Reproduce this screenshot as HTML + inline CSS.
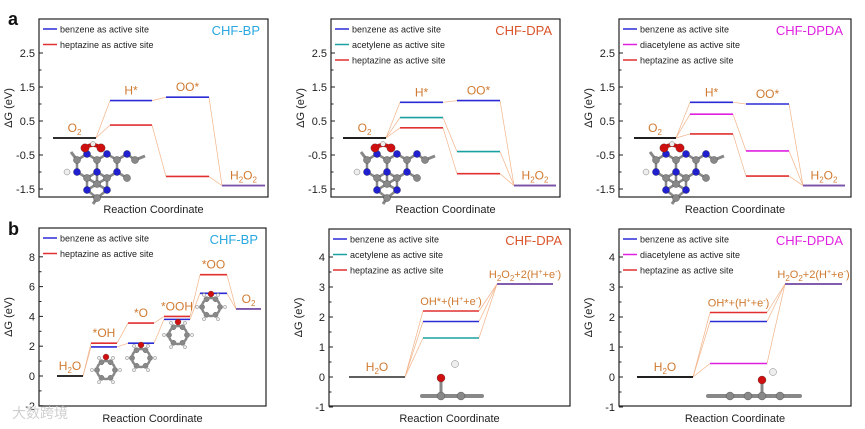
<!DOCTYPE html>
<html><head><meta charset="utf-8">
<style>
html,body{margin:0;padding:0;background:#fff;}
svg{display:block;font-family:"Liberation Sans",Arial,sans-serif;}
</style></head>
<body>
<svg id="fig" width="865" height="429" viewBox="0 0 865 429"></svg>
<script>
// ---- data ----
const topLeftSteps = ["O2","H*","OO*","H2O2"];
const topLeftBenzene = [0, 1.1, 1.2, -1.4];
const topLeftHeptazine = [0, 0.38, -1.13, -1.4];

const topMidSteps = ["O2","H*","OO*","H2O2"];
const topMidBenzene = [0, 1.05, 1.1, -1.4];
const topMidAcetylene = [0, 0.6, -0.4, -1.4];
const topMidHeptazine = [0, 0.3, -1.05, -1.4];

const topRightSteps = ["O2","H*","OO*","H2O2"];
const topRightBenzene = [0, 1.05, 1.0, -1.4];
const topRightDiacetylene = [0, 0.7, -0.38, -1.4];
const topRightHeptazine = [0, 0.12, -1.12, -1.4];

const botLeftSteps = ["H2O","*OH","*O","*OOH","*OO","O2"];
const botLeftBenzene = [0, 1.95, 2.2, 3.8, 5.55, 4.5];
const botLeftHeptazine = [0, 2.2, 3.55, 4.0, 6.8, 4.5];

const botMidSteps = ["H2O","OH*","H2O2"];
const botMidBenzene = [0, 1.85, 3.1];
const botMidAcetylene = [0, 1.3, 3.1];
const botMidHeptazine = [0, 2.2, 3.1];

const botRightSteps = ["H2O","OH*","H2O2"];
const botRightBenzene = [0, 1.85, 3.1];
const botRightDiacetylene = [0, 0.45, 3.1];
const botRightHeptazine = [0, 2.15, 3.1];

const topTicks = [2.5, 1.5, 0.5, -0.5, -1.5];
const botLeftTicks = [8, 6, 4, 2, 0, -2];
const botTicks = [4, 3, 2, 1, 0, -1];

const NS = "http://www.w3.org/2000/svg";
const svg = document.getElementById('fig');
function mk(tag, attrs, parent){
  const e = document.createElementNS(NS, tag);
  for (const k in attrs) e.setAttribute(k, attrs[k]);
  (parent||svg).appendChild(e);
  return e;
}
const OR = "#d07a30", CONN = "#f2b48a";
const BLUE="#2b2bd6", RED="#e03030", TEAL="#1aa0a0", MAG="#e020e0", PURP="#7a52a8";

function panel(opt){
  const g = mk('g', {});
  
  
  const y = v => opt.y0 - (v - opt.v0) * opt.scale;
  const fr = mk('rect', {x:opt.L, y:opt.T, width:opt.R-opt.L, height:opt.B-opt.T, fill:'none', stroke:'#222', 'stroke-width':1.2}, g);
  
  
  opt.ticks.forEach((t,i)=>{
    const ty = y(t);
    mk('line',{x1:opt.L,x2:opt.L+4,y1:ty,y2:ty,stroke:'#222','stroke-width':1},g);
    const tl = mk('text',{x:opt.L-4,y:ty+4,'text-anchor':'end','font-size':11,fill:'#222'},g);
    tl.textContent = t;
    
    
    if (i < opt.ticks.length-1){
      const my = y((t + opt.ticks[i+1])/2);
      mk('line',{x1:opt.L,x2:opt.L+2.5,y1:my,y2:my,stroke:'#222','stroke-width':1},g);
    }
  });
  const yt = mk('text',{x:0,y:0,'text-anchor':'middle','font-size':11,fill:'#222',transform:`translate(${opt.L-27},${(opt.T+opt.B)/2}) rotate(-90)`},g);
  yt.textContent = "ΔG (eV)";
  
  
  const xt = mk('text',{x:(opt.L+opt.R)/2,y:opt.B+16,'text-anchor':'middle','font-size':11,fill:'#222'},g);
  xt.textContent = "Reaction Coordinate";
  
  
  opt.series.forEach((s,i)=>{
    const ly = opt.T + 10 + i*15.5;
    mk('line',{x1:opt.L+4,x2:opt.L+18,y1:ly,y2:ly,stroke:s.color,'stroke-width':1.5},g);
    const lt = mk('text',{x:opt.L+21,y:ly+3.5,'font-size':9,fill:'#222'},g);
    lt.textContent = s.label;
    
    
  });
  const ti = mk('text',{x:opt.R-8,y:opt.T+16,'text-anchor':'end','font-size':13,fill:opt.titleColor},g);
  ti.textContent = opt.title;
  
  
  const n = opt.xs.length;
  opt.series.forEach(s=>{
    for (let i=0;i<n-1;i++){
      const c = mk('line',{x1:opt.xs[i][1],y1:y(s.vals[i]),x2:opt.xs[i+1][0],y2:y(s.vals[i+1]),stroke:CONN,'stroke-width':0.7},g);
      
      
    }
  });
  opt.series.forEach(s=>{
    for (let i=0;i<n;i++){
      let col = s.color;
      if (i===0) col = opt.firstColor;
      if (i===n-1) col = PURP;
      const l = mk('line',{x1:opt.xs[i][0],x2:opt.xs[i][1],y1:y(s.vals[i]),y2:y(s.vals[i]),stroke:col,'stroke-width':1.6},g);
      
      
    }
  });
  for (let i=0;i<n;i++){
    let top = Math.max(...opt.series.map(s=>s.vals[i]));
    const fs = opt.labelSizes ? opt.labelSizes[i] : 12;
    const st = mk('text',{x:(opt.xs[i][0]+opt.xs[i][1])/2,y:y(top)-6,'text-anchor':'middle','font-size':fs,fill:OR},g);
    st.innerHTML = opt.labels[i];
    
    
  }
  return {g, y};
}

function atom(g,x,yv,r,c){mk('circle',{cx:x,cy:yv,r:r,fill:c,stroke:'#333','stroke-width':0.3},g);}
function heptazine(g,cx,cy){
  const C='#888', N='#2020d0';
  const pts=[[-20,-4,C],[-10,-10,N],[0,-4,C],[10,-10,N],[20,-4,C],[30,-10,N],[38,-4,C],
             [-20,8,N],[-10,14,C],[0,8,N],[10,14,C],[20,8,N],[30,14,C],
             [-10,26,N],[0,20,C],[10,26,N],[0,34,C]];
  for(let i=0;i<pts.length;i++)for(let j=i+1;j<pts.length;j++){
    const d=Math.hypot(pts[i][0]-pts[j][0],pts[i][1]-pts[j][1]);
    if(d<14) mk('line',{x1:cx+pts[i][0],y1:cy+pts[i][1],x2:cx+pts[j][0],y2:cy+pts[j][1],stroke:'#888','stroke-width':2.5},g);
  }
  mk('line',{x1:cx+38,y1:cy-4,x2:cx+48,y2:cy-8,stroke:'#888','stroke-width':3},g);
  mk('line',{x1:cx,y1:cy+34,x2:cx-4,y2:cy+40,stroke:'#888','stroke-width':3},g);
  mk('line',{x1:cx-20,y1:cy-4,x2:cx-26,y2:cy-12,stroke:'#888','stroke-width':3},g);
  pts.forEach(p=>atom(g,cx+p[0],cy+p[1],3.6,p[2]));
  atom(g,cx-30,cy+8,3,'#eee');
  mk('path',{d:`M${cx-12} ${cy-16} q8 -6 16 0`,stroke:'#d01010','stroke-width':4,fill:'none'},g);
  atom(g,cx-12,cy-16,4.2,'#d01010');atom(g,cx+4,cy-16,4.2,'#d01010');atom(g,cx-4,cy-20,2.5,'#eee');
}
function ring(g,cx,cy){
  for(let k=0;k<6;k++){const a=k*Math.PI/3;atom(g,cx+9*Math.cos(a),cy+9*Math.sin(a),2.6,'#888');atom(g,cx+14*Math.cos(a),cy+14*Math.sin(a),1.6,'#eee');}
  mk('circle',{cx:cx,cy:cy,r:9,fill:'none',stroke:'#888','stroke-width':2.5},g);
  atom(g,cx,cy-13,3,'#d01010');
}
const S2='<tspan font-size="8" dy="3">2</tspan>';
const H2O2=`H${S2}<tspan dy="-3">O</tspan>${S2}`;
const OHp='OH*+(H<tspan font-size="7" dy="-4">+</tspan><tspan dy="4">+e</tspan><tspan font-size="7" dy="-4">-</tspan><tspan dy="4">)</tspan>';
const H2O2p=`H${S2}<tspan dy="-3">O</tspan>${S2}<tspan dy="-3">+2(H</tspan><tspan font-size="7" dy="-4">+</tspan><tspan dy="4">+e</tspan><tspan font-size="7" dy="-4">-</tspan><tspan dy="4">)</tspan>`;
const H2O=`H${S2}<tspan dy="-3">O</tspan>`;

let p = panel({name:'panel-a-chf-bp',L:39,R:268,T:19,B:197,y0:121,v0:0.5,scale:34,ticks:topTicks,
  title:'CHF-BP',titleColor:'#29a8e0',firstColor:'#111',
  xs:[[53,96],[110,152],[166,209],[222,265]],
  labels:['O'+S2,'H*','OO*',H2O2],
  series:[{label:'benzene as active site',color:BLUE,vals:topLeftBenzene},{label:'heptazine as active site',color:RED,vals:topLeftHeptazine}]});
heptazine(p.g,97,164);
p = panel({name:'panel-a-chf-dpa',L:331,R:560,T:19,B:197,y0:121,v0:0.5,scale:34,ticks:topTicks,
  title:'CHF-DPA',titleColor:'#d9542a',firstColor:'#111',
  xs:[[343,386],[400,443],[457,500],[514,556]],
  labels:['O'+S2,'H*','OO*',H2O2],
  series:[{label:'benzene as active site',color:BLUE,vals:topMidBenzene},{label:'acetylene as active site',color:TEAL,vals:topMidAcetylene},{label:'heptazine as active site',color:RED,vals:topMidHeptazine}]});
heptazine(p.g,387,164);
p = panel({name:'panel-a-chf-dpda',L:619,R:851,T:19,B:197,y0:121,v0:0.5,scale:34,ticks:topTicks,
  title:'CHF-DPDA',titleColor:'#e020e0',firstColor:'#111',
  xs:[[634,676],[690,733],[746,789],[803,845]],
  labels:['O'+S2,'H*','OO*',H2O2],
  series:[{label:'benzene as active site',color:BLUE,vals:topRightBenzene},{label:'diacetylene as active site',color:MAG,vals:topRightDiacetylene},{label:'heptazine as active site',color:RED,vals:topRightHeptazine}]});
heptazine(p.g,676,164);

p = panel({name:'panel-b-chf-bp',L:39,R:266,T:228,B:406,y0:376,v0:0,scale:14.9,ticks:botLeftTicks,
  title:'CHF-BP',titleColor:'#29a8e0',firstColor:'#111',
  xs:[[57,83],[91,117],[128,154],[164,190],[200,227],[236,261]],
  labels:[H2O,'*OH','*O','*OOH','*OO','O'+S2],
  series:[{label:'benzene as active site',color:BLUE,vals:botLeftBenzene},{label:'heptazine as active site',color:RED,vals:botLeftHeptazine}]});
ring(p.g,106,370);ring(p.g,141,358);ring(p.g,178,335);ring(p.g,211,307);
p = panel({name:'panel-b-chf-dpa',L:329,R:570,T:229,B:406,y0:377,v0:0,scale:30,ticks:botTicks,
  title:'CHF-DPA',titleColor:'#d9542a',firstColor:'#555',
  xs:[[349,405],[423,479],[497,553]],
  labels:[H2O,OHp,H2O2p],labelSizes:[12,11,11],
  series:[{label:'benzene as active site',color:BLUE,vals:botMidBenzene},{label:'acetylene as active site',color:TEAL,vals:botMidAcetylene},{label:'heptazine as active site',color:RED,vals:botMidHeptazine}]});
mk('line',{x1:422,y1:396,x2:482,y2:396,stroke:'#888','stroke-width':4,'stroke-linecap':'round'},p.g);
mk('line',{x1:441,y1:396,x2:441,y2:380,stroke:'#888','stroke-width':3},p.g);
atom(p.g,441,396,4,'#888');atom(p.g,461,396,4,'#888');atom(p.g,441,378,4,'#d01010');atom(p.g,455,364,3.5,'#eee');
p = panel({name:'panel-b-chf-dpda',L:619,R:851,T:229,B:406,y0:377,v0:0,scale:30,ticks:botTicks,
  title:'CHF-DPDA',titleColor:'#e020e0',firstColor:'#111',
  xs:[[637,693],[710,767],[785,842]],
  labels:[H2O,OHp,H2O2p],labelSizes:[12,11,11],
  series:[{label:'benzene as active site',color:BLUE,vals:botRightBenzene},{label:'diacetylene as active site',color:MAG,vals:botRightDiacetylene},{label:'heptazine as active site',color:RED,vals:botRightHeptazine}]});
mk('line',{x1:708,y1:396,x2:800,y2:396,stroke:'#888','stroke-width':4,'stroke-linecap':'round'},p.g);
mk('line',{x1:762,y1:396,x2:762,y2:382,stroke:'#888','stroke-width':3},p.g);
[730,748,762,780].forEach(x=>atom(p.g,x,396,4,'#888'));atom(p.g,762,380,4,'#d01010');atom(p.g,773,372,3.5,'#eee');

const la = mk('text',{x:8,y:25,'font-size':18,'font-weight':'bold',fill:'#111'});la.textContent='a';

const lb = mk('text',{x:8,y:235,'font-size':18,'font-weight':'bold',fill:'#111'});lb.textContent='b';

const wm = mk('text',{x:12,y:418,'font-size':14,fill:'#cfcfcf','font-family':'"Liberation Sans","Noto Sans CJK SC",sans-serif'});wm.textContent='大数跨境';

</script>
</body></html>
